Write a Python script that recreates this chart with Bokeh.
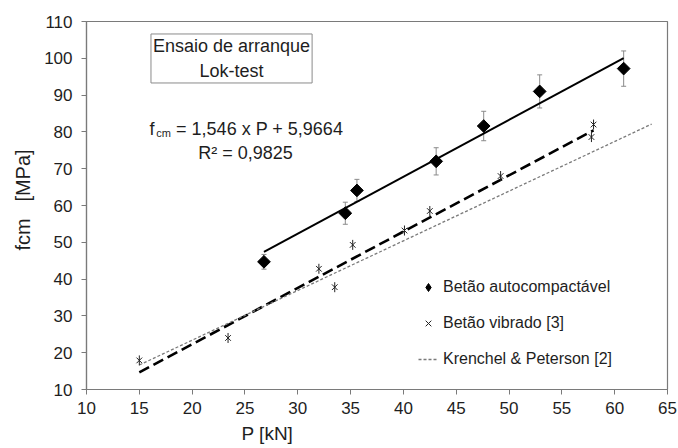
from math import pi
from bokeh.plotting import figure
from bokeh.models import (Range1d, FixedTicker, ColumnDataSource, Whisker, TeeHead,
                          Label, Legend, LegendItem, Title)
from bokeh.embed import file_html
from bokeh.resources import INLINE

# ---- data ----
sc_P = [26.8, 34.5, 35.6, 43.1, 47.6, 52.9, 60.85]
sc_fcm = [44.7, 57.9, 64.1, 72.0, 81.6, 91.0, 97.2]
sc_err = [2.0, 3.0, 3.0, 3.7, 4.0, 4.5, 4.8]

vib_P = [15.0, 23.4, 32.0, 33.5, 35.2, 40.1, 42.5, 49.2, 58.0, 57.8]
vib_fcm = [17.9, 24.0, 42.8, 37.8, 49.3, 53.2, 58.5, 68.0, 82.0, 78.6]

sc_slope, sc_intercept = 1.546, 5.9664
vib_slope, vib_intercept = 1.53, -8.3
kp_slope, kp_intercept = 1.35, -3.6
kp_P_range = [15.0, 63.5]

x_ticks = [10, 15, 20, 25, 30, 35, 40, 45, 50, 55, 60, 65]
y_ticks = [10, 20, 30, 40, 50, 60, 70, 80, 90, 100, 110]

FONT = "Liberation Sans"
GRAY = "#7a7a7a"
TXT = "#1e1e1e"
NB = "\u00a0"

p = figure(width=678, height=448, output_backend="svg", toolbar_location=None,
           x_range=Range1d(10, 65), y_range=Range1d(10, 110),
           min_border_left=86, min_border_right=11, min_border_top=21, min_border_bottom=59)
p.background_fill_color = "white"
p.border_fill_color = "white"
p.outline_line_color = GRAY
p.outline_line_width = 1.2
p.xgrid.visible = False
p.ygrid.visible = False

for ax, ticks in ((p.xaxis[0], x_ticks), (p.yaxis[0], y_ticks)):
    ax.ticker = FixedTicker(ticks=ticks)
    ax.minor_tick_line_color = None
    ax.major_tick_out = 5
    ax.major_tick_in = 0
    ax.axis_line_color = GRAY
    ax.axis_line_width = 1.2
    ax.major_tick_line_color = GRAY
    ax.major_label_text_font = FONT
    ax.major_label_text_font_size = "17px"
    ax.major_label_text_color = TXT
p.xaxis.major_label_standoff = 7
p.yaxis.major_label_standoff = 9

# axis titles (offset along the axis as in the reference)
p.add_layout(Title(text="fcm" + NB * 3 + "[MPa]", align="left", offset=139, standoff=15,
                   text_font=FONT, text_font_size="20px", text_font_style="normal",
                   text_color=TXT), "left")
p.add_layout(Title(text="P [kN]", align="left", offset=155, standoff=8,
                   text_font=FONT, text_font_size="19px", text_font_style="normal",
                   text_color=TXT), "below")

# regression lines
sc_x = [min(sc_P), max(sc_P)]
p.line(sc_x, [sc_slope * x + sc_intercept for x in sc_x], line_color="black", line_width=2)
vib_x = [min(vib_P), max(vib_P)]
p.line(vib_x, [vib_slope * x + vib_intercept for x in vib_x], line_color="black",
       line_width=2.6, line_dash="11 5")
kp = p.line(kp_P_range, [kp_slope * x + kp_intercept for x in kp_P_range], line_color=GRAY,
            line_width=1.3, line_dash="3 2")

# error bars
src_sc = ColumnDataSource(dict(x=sc_P, y=sc_fcm,
                               upper=[v + e for v, e in zip(sc_fcm, sc_err)],
                               lower=[v - e for v, e in zip(sc_fcm, sc_err)]))
p.add_layout(Whisker(source=src_sc, base="x", upper="upper", lower="lower",
                     line_color="#8a8a8a", line_width=1,
                     upper_head=TeeHead(size=5, line_color="#8a8a8a", line_width=1),
                     lower_head=TeeHead(size=5, line_color="#8a8a8a", line_width=1)))

p.scatter("x", "y", source=src_sc, marker="square", angle=pi / 4, size=9,
          fill_color="black", line_color="black")
vx = p.scatter(vib_P, vib_fcm, marker="x", size=8, line_color="#222222", line_width=1)
p.scatter(vib_P, vib_fcm, marker="dash", angle=pi / 2, size=10, line_color="#222222",
          line_width=1)

# legend proxy for the diamond symbol (legend glyphs ignore marker angle);
# zero size so it draws nothing in the plot area
sc_proxy = p.scatter("x", "y", source=src_sc, marker="diamond", size=0,
                     fill_color="black", line_color="black")

legend = Legend(items=[LegendItem(label="Betão autocompactável", renderers=[sc_proxy]),
                       LegendItem(label="Betão vibrado [3]", renderers=[vx]),
                       LegendItem(label="Krenchel & Peterson [2]", renderers=[kp])],
                location=(332, 20), padding=0, margin=0, spacing=16,
                glyph_width=20, glyph_height=20, label_height=20, label_standoff=5,
                label_text_font=FONT, label_text_font_size="16px", label_text_color=TXT,
                border_line_color=None, background_fill_alpha=0)
p.add_layout(legend)

# annotation box
p.add_layout(Label(x=23.73, y=99.95, text="Ensaio de arranque\nLok-test",
                   text_align="center", text_baseline="middle", text_font=FONT,
                   text_font_size="18px", text_color=TXT, text_line_height=1.25,
                   border_line_color="#8a8a8a", border_line_width=1,
                   background_fill_color="white", padding=2))

# equation
p.add_layout(Label(x=15.96, y=80.92, text="f", text_font=FONT, text_font_size="18px",
                   text_color=TXT, text_baseline="alphabetic"))
p.add_layout(Label(x=16.6, y=79.57, text="cm", text_font=FONT, text_font_size="11px",
                   text_color=TXT, text_baseline="alphabetic"))
p.add_layout(Label(x=18.48, y=80.92, text="= 1,546 x P + 5,9664", text_font=FONT,
                   text_font_size="18px", text_color=TXT, text_baseline="alphabetic"))
p.add_layout(Label(x=25.05, y=74.40, text="R² = 0,9825", text_font=FONT,
                   text_font_size="18px", text_color=TXT, text_baseline="alphabetic",
                   text_align="center"))

open("out.html", "w").write(file_html(p, INLINE))
